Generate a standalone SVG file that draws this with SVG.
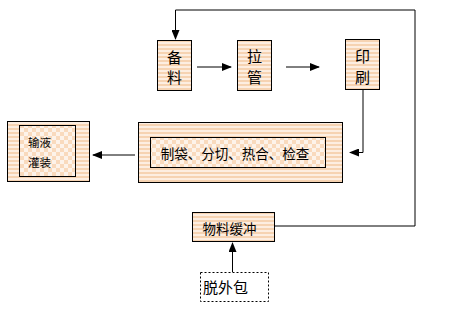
<svg xmlns="http://www.w3.org/2000/svg" width="450" height="320" viewBox="0 0 450 320">
<style>
text{font-family:"Noto Sans CJK SC","Noto Sans",sans-serif;fill:#000;text-anchor:middle;dominant-baseline:central}
.box{stroke:#000;stroke-width:1}
.st{fill:url(#stripes)}
.ck{fill:url(#checker)}
.ln{fill:none;stroke:#000;stroke-width:1}
</style>
<defs>
<pattern id="stripes" width="4" height="4" patternUnits="userSpaceOnUse">
<rect width="4" height="4" fill="#fdeee1"/>
<rect width="4" height="2" fill="#f6d3b2"/>
</pattern>
<pattern id="checker" width="8" height="8" patternUnits="userSpaceOnUse">
<rect width="8" height="8" fill="#fdf3ea"/>
<rect width="4" height="4" fill="#f9dabd"/>
<rect x="4" y="4" width="4" height="4" fill="#f9dabd"/>
</pattern>
<marker id="ah" markerWidth="10" markerHeight="8" refX="9" refY="4" orient="auto" markerUnits="userSpaceOnUse">
<path d="M0,0 L10,4 L0,8 Z" fill="#000"/>
</marker>
</defs>
<rect width="450" height="320" fill="#fff"/>
<g id="connectors">
<path class="ln" d="M274.5,226 H415 V10 H175.5 V39" marker-end="url(#ah)"/>
<path class="ln" d="M197,67 H231" marker-end="url(#ah)"/>
<path class="ln" d="M286,67 H319" marker-end="url(#ah)"/>
<path class="ln" d="M363,89.5 V152.5 H350" marker-end="url(#ah)"/>
<path class="ln" d="M135,155 H93" marker-end="url(#ah)"/>
<path class="ln" d="M232.5,272 V243" marker-end="url(#ah)"/>
</g>
<g id="beiliao">
<rect class="box st" x="157.5" y="40.5" width="34" height="50"/>
<text x="174.5" y="56" font-size="15">备</text>
<text x="174.5" y="76" font-size="15">料</text>
</g>
<g id="laguan">
<rect class="box st" x="237.5" y="40.5" width="34" height="50"/>
<text x="254.5" y="55" font-size="15">拉</text>
<text x="254.5" y="76" font-size="15">管</text>
</g>
<g id="yinshua">
<rect class="box st" x="345.5" y="39.5" width="34" height="50"/>
<text x="362.5" y="55" font-size="15">印</text>
<text x="362.5" y="76" font-size="15">刷</text>
</g>
<g id="zhidai">
<rect class="box st" x="138.5" y="122.5" width="204" height="60"/>
<rect class="box ck" x="150.5" y="137.5" width="175" height="30"/>
<text x="235" y="152.5" font-size="13.5">制袋、分切、热合、检查</text>
</g>
<g id="shuye">
<rect class="box st" x="7.5" y="121.5" width="82" height="60"/>
<rect class="box ck" x="19.5" y="125.5" width="56" height="51"/>
<text x="39.5" y="141.5" font-size="11.5">输液</text>
<text x="39.5" y="161.5" font-size="11.5">灌装</text>
</g>
<g id="wuliao">
<rect class="box st" x="192.5" y="212.5" width="82" height="29"/>
<text x="229.5" y="227.5" font-size="13.5">物料缓冲</text>
</g>
<g id="tuowaibao">
<rect x="200.5" y="272.5" width="68" height="29" fill="#fff" stroke="#000" stroke-width="1" stroke-dasharray="2,2"/>
<text x="225.5" y="286" font-size="15">脱外包</text>
</g>
</svg>
